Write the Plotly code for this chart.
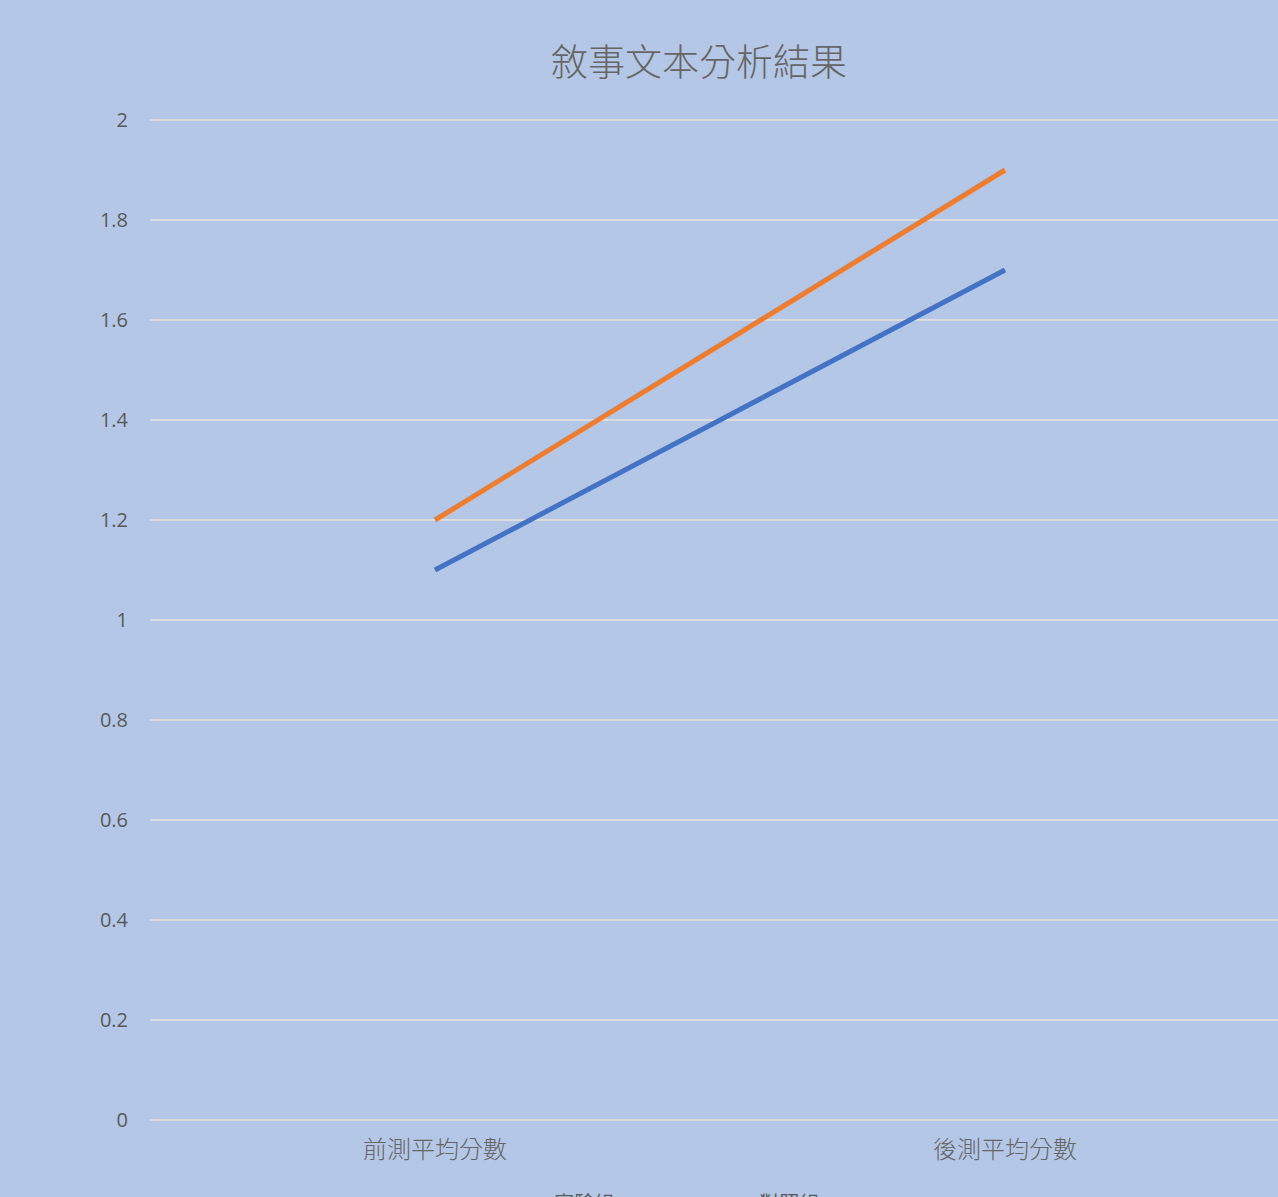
import plotly.graph_objects as go

# Mean narrative-text scores, pre-test vs post-test
categories = ["前測平均分數", "後測平均分數"]
experimental = [1.1, 1.7]
control = [1.2, 1.9]
series_names = ["實驗組", "對照組"]
y_ticks = [0, 0.2, 0.4, 0.6, 0.8, 1, 1.2, 1.4, 1.6, 1.8, 2]

bg = "#b4c7e7"
grey = "#595959"

fig = go.Figure()
fig.add_trace(go.Scatter(x=categories, y=experimental, mode="lines",
                         name=series_names[0],
                         line=dict(color="#4472c4", width=5)))
fig.add_trace(go.Scatter(x=categories, y=control, mode="lines",
                         name=series_names[1],
                         line=dict(color="#ed7d31", width=5)))

fig.update_layout(
    width=1278, height=1197,
    paper_bgcolor=bg, plot_bgcolor=bg,
    margin=dict(l=150, r=0, t=118, b=77, autoexpand=False),
    title=dict(text="敘事文本分析結果", x=0.547, xanchor="center",
               y=0.947, yanchor="middle",
               font=dict(family="Noto Sans CJK TC", size=37, color="#666666",
                         weight=300)),
    font=dict(family="Noto Sans CJK TC", color=grey),
    showlegend=True,
    legend=dict(orientation="h", x=0.323, xanchor="left", y=-0.064,
                yanchor="top", font=dict(size=20, color=grey),
                entrywidth=160, entrywidthmode="pixels",
                bgcolor="rgba(0,0,0,0)"),
)
fig.update_xaxes(range=[-0.5, 1.479], showgrid=False, showline=False,
                 zeroline=False, ticks="", ticklabelstandoff=13,
                 tickfont=dict(family="Noto Sans CJK TC", size=24, color="#666666",
                               weight=300))
fig.update_yaxes(range=[0, 2.004], tickvals=y_ticks,
                 ticktext=[f"{v:g}" for v in y_ticks],
                 showgrid=True, gridcolor="#dcdcdc", gridwidth=1.5,
                 zeroline=True, zerolinecolor="#dcdcdc", zerolinewidth=1.5,
                 showline=False, ticks="", ticklabelstandoff=21,
                 tickfont=dict(family="Open Sans", size=20, color=grey))

fig.write_html("out.html")
